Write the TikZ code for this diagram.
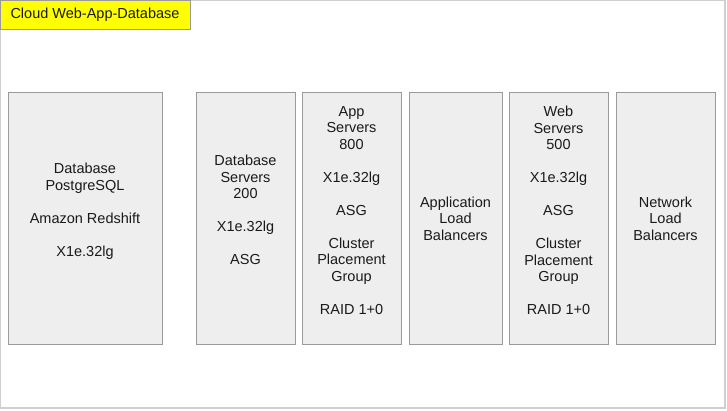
\documentclass[tikz,border=0pt]{standalone}
\usepackage{fontspec}
\setmainfont{Liberation Sans}
\definecolor{boxfill}{HTML}{EEEEEE}
\definecolor{boxline}{HTML}{9A9A9A}
\definecolor{frameline}{HTML}{CFCFCF}
\definecolor{txt}{HTML}{1A1A1A}
\definecolor{titlefill}{HTML}{FFFF00}
\begin{document}
\begin{tikzpicture}[x=1pt,y=-1pt,
  panel/.style={draw=boxline, fill=boxfill, line width=1pt, inner sep=0pt, minimum height=252pt},
  label/.style={text=txt, align=center, inner sep=0pt, font=\fontsize{14.5}{16.5}\selectfont},
  titlebox/.style={draw=boxline, fill=titlefill, line width=1pt, inner sep=0pt, minimum width=190pt, minimum height=29pt, text=txt, font=\fontsize{14.5}{16.5}\selectfont}]
\useasboundingbox (0,0) rectangle (727,410);
\node[draw=frameline, line width=1.5pt, minimum width=725pt, minimum height=408pt, inner sep=0pt] (frame) at (362.5,204) {};
\node[titlebox] (title) at (95,14.5) {Cloud Web-App-Database};

\node[panel, minimum width=154pt] (p1) at (85,218) {};
\node[panel, minimum width=99pt] (p2) at (245.5,218) {};
\node[panel, minimum width=99pt] (p3) at (351.5,218) {};
\node[panel, minimum width=93pt] (p4) at (455.5,218) {};
\node[panel, minimum width=99pt] (p5) at (558.5,218) {};
\node[panel, minimum width=99pt] (p6) at (665.5,218) {};

\node[label] (t1) at (85,211) {Database\\PostgreSQL\\[16.5pt]Amazon Redshift\\[16.5pt]X1e.32lg};
\node[label] (t2) at (245.5,210) {Database\\Servers\\200\\[16.5pt]X1e.32lg\\[16.5pt]ASG};
\node[label] (t3) at (351.5,210.5) {App\\Servers\\800\\[16.5pt]X1e.32lg\\[16.5pt]ASG\\[16.5pt]Cluster\\Placement\\Group\\[16.5pt]RAID 1+0};
\node[label] (t4) at (455.5,218.5) {Application\\Load\\Balancers};
\node[label] (t5) at (558.5,210.5) {Web\\Servers\\500\\[16.5pt]X1e.32lg\\[16.5pt]ASG\\[16.5pt]Cluster\\Placement\\Group\\[16.5pt]RAID 1+0};
\node[label] (t6) at (665.5,218.5) {Network\\Load\\Balancers};
\end{tikzpicture}
\end{document}
